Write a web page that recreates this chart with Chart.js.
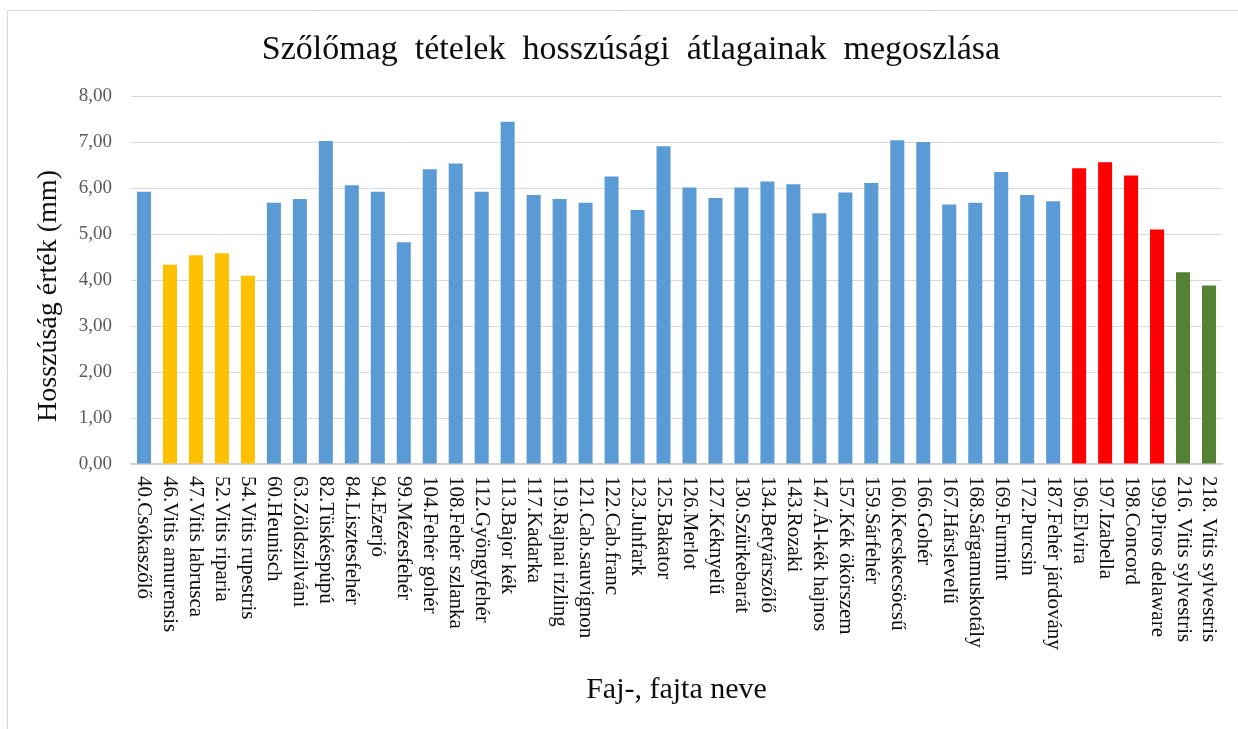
<!DOCTYPE html>
<html>
<head>
<meta charset="utf-8">
<script src="https://cdn.jsdelivr.net/npm/chart.js@4/dist/chart.umd.min.js"></script>
<style>
  html, body { margin: 0; padding: 0; background: #fff; }
  #wrap { width: 1238px; height: 729px; }
</style>
</head>
<body>
<div id="wrap"><canvas id="szoloChart" width="1238" height="729"></canvas></div>
<script>
// fajták (x tengely)
const fajtak = [
  '40.Csókaszőlő', '46.Vitis amurensis', '47.Vitis labrusca', '52.Vitis riparia', '54.Vitis rupestris',
  '60.Heunisch', '63.Zöldszilváni', '82.Tüskéspúpú', '84.Lisztesfehér', '94.Ezerjó',
  '99.Mézesfehér', '104.Fehér gohér', '108.Fehér szlanka', '112.Gyöngyfehér', '113.Bajor kék',
  '117.Kadarka', '119.Rajnai rizling', '121.Cab.sauvignon', '122.Cab.franc', '123.Juhfark',
  '125.Bakator', '126.Merlot', '127.Kéknyelű', '130.Szürkebarát', '134.Betyárszőlő',
  '143.Rozaki', '147.Ál-kék hajnos', '157.Kék ökörszem', '159.Sárfehér', '160.Kecskecsöcsű',
  '166.Gohér', '167.Hárslevelű', '168.Sárgamuskotály', '169.Furmint', '172.Purcsin',
  '187.Fehér járdovány', '196.Elvira', '197.Izabella', '198.Concord', '199.Piros delaware',
  '216. Vitis sylvestris', '218. Vitis sylvestris'
];

// hosszúsági átlagok (mm)
const hosszusag = [
  5.92, 4.33, 4.54, 4.58, 4.09,
  5.68, 5.76, 7.02, 6.06, 5.92,
  4.82, 6.41, 6.53, 5.92, 7.44,
  5.85, 5.76, 5.68, 6.25, 5.52,
  6.91, 6.01, 5.78, 6.01, 6.14,
  6.08, 5.45, 5.90, 6.11, 7.04,
  7.00, 5.64, 5.68, 6.35, 5.85,
  5.71, 6.43, 6.56, 6.27, 5.10,
  4.17, 3.88
];

// csoportok: k = kék, s = sárga, p = piros, z = zöld
const csoport = [
  'k', 's', 's', 's', 's',
  'k', 'k', 'k', 'k', 'k',
  'k', 'k', 'k', 'k', 'k',
  'k', 'k', 'k', 'k', 'k',
  'k', 'k', 'k', 'k', 'k',
  'k', 'k', 'k', 'k', 'k',
  'k', 'k', 'k', 'k', 'k',
  'k', 'p', 'p', 'p', 'p',
  'z', 'z'
];

const yTicks = [0, 1, 2, 3, 4, 5, 6, 7, 8];

const szinek = { k: '#5B9BD5', s: '#FFC000', p: '#FF0000', z: '#548235' };
const serif = '"Liberation Serif", "Times New Roman", serif';

// feliratok saját rajzolása (cím, tengelycímek, elforgatott kategórianevek)
const feliratok = {
  id: 'feliratok',
  afterDraw(chart) {
    const c = chart.ctx;
    const area = chart.chartArea;
    const x = chart.scales.x;
    c.save();

    // keret
    c.strokeStyle = '#d9d9d9';
    c.lineWidth = 1;
    c.beginPath();
    c.moveTo(7.5, 729);
    c.lineTo(7.5, 10.5);
    c.lineTo(1238, 10.5);
    c.stroke();

    // cím
    c.fillStyle = '#0d0d0d';
    c.font = '34px ' + serif;
    c.textAlign = 'center';
    c.textBaseline = 'alphabetic';
    c.fillText('Szőlőmag  tételek  hosszúsági  átlagainak  megoszlása', 631, 59);

    // x tengely címe
    c.font = '30px ' + serif;
    c.fillText('Faj-, fajta neve', (area.left + area.right) / 2, 698);

    // y tengely címe
    c.save();
    c.translate(49, 296);
    c.rotate(-Math.PI / 2);
    c.font = '28px ' + serif;
    c.textBaseline = 'middle';
    c.fillText('Hosszúság érték (mm)', 0, 0);
    c.restore();

    // kategórianevek
    c.font = '21px ' + serif;
    c.textAlign = 'left';
    c.textBaseline = 'middle';
    fajtak.forEach((nev, i) => {
      c.save();
      c.translate(x.getPixelForValue(i), area.bottom + 12);
      c.rotate(Math.PI / 2);
      c.fillText(nev, 0, 0);
      c.restore();
    });
    c.restore();
  }
};

new Chart(document.getElementById('szoloChart'), {
  type: 'bar',
  data: {
    labels: fajtak,
    datasets: [{
      data: hosszusag,
      backgroundColor: csoport.map(k => szinek[k]),
      borderWidth: 0,
      barPercentage: 0.54,
      categoryPercentage: 1.0
    }]
  },
  options: {
    responsive: false,
    animation: false,
    devicePixelRatio: 1,
    layout: { padding: { top: 96, right: 16, bottom: 0, left: 0 } },
    plugins: {
      legend: { display: false },
      title: { display: false },
      tooltip: { enabled: false }
    },
    scales: {
      x: {
        grid: { display: false },
        border: { display: true, color: '#d0d0d0', width: 1.5 },
        ticks: { display: false },
        afterFit(scale) { scale.height = 729 - 464; }
      },
      y: {
        min: 0,
        max: 8,
        afterBuildTicks(scale) { scale.ticks = yTicks.map(v => ({ value: v })); },
        afterFit(scale) { scale.width = 131; },
        grid: { color: '#d9d9d9', lineWidth: 1, drawTicks: false },
        border: { display: false },
        ticks: {
          padding: 19,
          color: '#595959',
          font: { family: serif, size: 19 },
          callback: v => v.toFixed(2).replace('.', ',')
        }
      }
    }
  },
  plugins: [feliratok]
});
</script>
</body>
</html>
